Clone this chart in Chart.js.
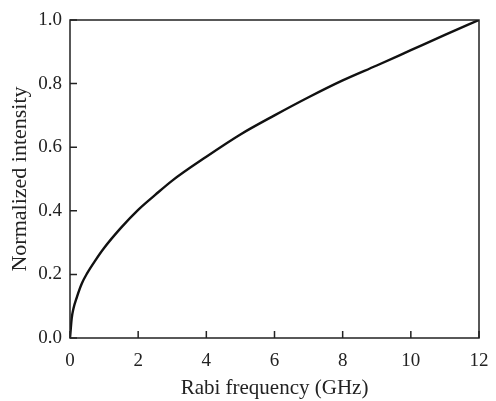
<!DOCTYPE html>
<html>
<head>
<meta charset="utf-8">
<script src="https://cdn.jsdelivr.net/npm/chart.js@4"></script>
<style>
  html, body { margin: 0; padding: 0; background: #fff; }
  #wrap { width: 496px; height: 401px; }
</style>
</head>
<body>
<div id="wrap"><canvas id="intensity"></canvas></div>
<script>
// Rabi frequency (GHz) against normalized intensity
const rabiGHz = [0, 0.05, 0.1, 0.2, 0.35, 0.5, 0.75, 1, 1.5, 2, 2.5, 3, 4, 5, 6, 7, 8, 9, 10, 11, 12];
const intensity = [0, 0.062, 0.092, 0.128, 0.172, 0.203, 0.245, 0.283, 0.347, 0.403, 0.45, 0.495, 0.57, 0.64, 0.70, 0.757, 0.81, 0.857, 0.905, 0.953, 1.0];
const xTicks = [0, 2, 4, 6, 8, 10, 12];
const yTicks = [0, 0.2, 0.4, 0.6, 0.8, 1.0];

const serif = "'Liberation Serif', 'Times New Roman', serif";
const tickFont = { family: serif, size: 19 };
const ink = "#222";

// frame on all four sides plus short inward ticks
const frame = {
  id: "frame",
  afterDraw(chart) {
    const { ctx, chartArea: a, scales } = chart;
    ctx.save();
    ctx.strokeStyle = ink;
    ctx.lineWidth = 1.5;
    ctx.strokeRect(a.left, a.top, a.right - a.left, a.bottom - a.top);
    ctx.beginPath();
    xTicks.forEach((v) => {
      const x = scales.x.getPixelForValue(v);
      ctx.moveTo(x, a.bottom);
      ctx.lineTo(x, a.bottom - 7);
    });
    yTicks.forEach((v) => {
      const y = scales.y.getPixelForValue(v);
      ctx.moveTo(a.left, y);
      ctx.lineTo(a.left + 7, y);
    });
    ctx.stroke();
    ctx.restore();
  },
};

new Chart(document.getElementById("intensity"), {
  type: "line",
  data: {
    datasets: [
      {
        data: rabiGHz.map((x, i) => ({ x, y: intensity[i] })),
        borderColor: "#111",
        borderWidth: 2.4,
        pointRadius: 0,
        cubicInterpolationMode: "monotone",
        fill: false,
      },
    ],
  },
  options: {
    responsive: true,
    maintainAspectRatio: false,
    animation: false,
    layout: { padding: { top: 20, right: 17, left: 0, bottom: 0 } },
    plugins: { legend: { display: false }, tooltip: { enabled: false } },
    scales: {
      x: {
        type: "linear",
        min: 0,
        max: 12,
        afterBuildTicks: (s) => { s.ticks = xTicks.map((v) => ({ value: v })); },
        afterFit: (s) => { s.height = 63; s.paddingLeft = 0; s.paddingRight = 0; },
        grid: { display: false, drawTicks: false },
        border: { display: false },
        ticks: { color: ink, font: tickFont, padding: 12, maxRotation: 0 },
        title: { display: true, text: "Rabi frequency (GHz)", color: ink, font: { family: serif, size: 21 }, padding: { top: 2, bottom: 0 } },
      },
      y: {
        min: 0,
        max: 1,
        afterBuildTicks: (s) => { s.ticks = yTicks.map((v) => ({ value: v })); },
        afterFit: (s) => { s.width = 70; s.paddingTop = 0; s.paddingBottom = 0; },
        grid: { display: false, drawTicks: false },
        border: { display: false },
        ticks: { color: ink, font: tickFont, padding: 8, callback: (v) => v.toFixed(1) },
        title: { display: true, text: "Normalized intensity", color: ink, font: { family: serif, size: 22 }, padding: { top: 7, bottom: 0 } },
      },
    },
  },
  plugins: [frame],
});
</script>
</body>
</html>
